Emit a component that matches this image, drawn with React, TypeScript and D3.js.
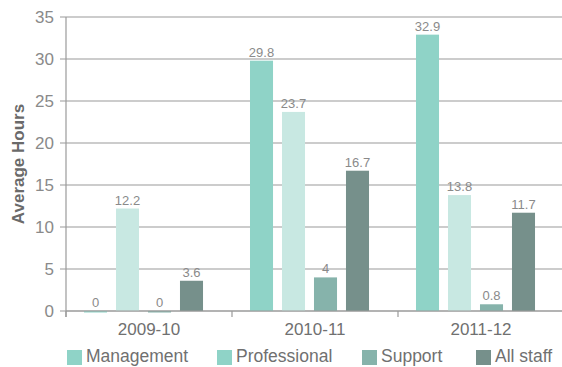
import React from "react";
import * as d3 from "d3";

const categories = ["2009-10", "2010-11", "2011-12"];
const seriesNames = ["Management", "Professional", "Support", "All staff"];
const management = [0, 29.8, 32.9];
const professional = [12.2, 23.7, 13.8];
const support = [0, 4, 0.8];
const allStaff = [3.6, 16.7, 11.7];
const yTicks = [0, 5, 10, 15, 20, 25, 30, 35];

const barColors = ["#8fd3c7", "#c8e8e2", "#86b3ab", "#76908b"];
const legendColors = ["#8fd3c7", "#8fd3c7", "#86b3ab", "#76908b"];

const W = 562;
const H = 367;
const left = 66;
const right = 562;
const top = 17;
const bottom = 311;
const font = "'Liberation Sans', Arial, Helvetica, sans-serif";

export default function App() {
  const seriesValues = [management, professional, support, allStaff];
  const x0 = d3.scaleBand().domain(categories).range([left, left + 166 * 3]).paddingInner(0).paddingOuter(0);
  const x1 = d3
    .scaleBand()
    .domain(seriesNames)
    .range([0, 166])
    .paddingInner(0.28)
    .paddingOuter(0.734)
    .align(0.383);
  const y = d3.scaleLinear().domain([0, 35]).range([bottom, top]);

  const legendX = [67, 217, 362, 476];

  return (
    <svg width={W} height={H} style={{ position: "absolute", left: 0, top: 0, background: "#fff" }} fontFamily={font}>
      {yTicks.map((t) => (
        <g key={t}>
          <line x1={left - 6} x2={right} y1={y(t)} y2={y(t)} stroke="#9a9a9a" strokeWidth={1.2} />
          <text x={54} y={y(t)} dy="0.35em" textAnchor="end" fontSize={17} fill="#8a8a8a">
            {t}
          </text>
        </g>
      ))}
      <line x1={left} x2={left} y1={top} y2={bottom + 6} stroke="#9a9a9a" strokeWidth={1.2} />
      {categories.map((c, ci) => (
        <g key={c}>
          {seriesNames.map((s, si) => {
            const v = seriesValues[si][ci];
            const bx = (x0(c) as number) + (x1(s) as number);
            const bw = x1.bandwidth();
            const yTop = y(v);
            return (
              <g key={s}>
                <rect x={bx} y={yTop} width={bw} height={Math.max(bottom - yTop, v === 0 ? 1.5 : 0)} fill={barColors[si]} />
                <text x={bx + bw / 2} y={yTop - 4} textAnchor="middle" fontSize={13} fill="#8a8a8a">
                  {v}
                </text>
              </g>
            );
          })}
        </g>
      ))}
      <line x1={left} x2={right} y1={bottom} y2={bottom} stroke="#9a9a9a" strokeWidth={1.2} />
      {categories.map((c) => (
        <g key={c}>
          <line x1={x0(c) as number} x2={x0(c) as number} y1={bottom} y2={bottom + 6} stroke="#9a9a9a" strokeWidth={1.2} />
          <text x={(x0(c) as number) + x0.bandwidth() / 2} y={335} textAnchor="middle" fontSize={17} fill="#707070">
            {c}
          </text>
        </g>
      ))}
      <text
        transform={`translate(24, ${(top + bottom) / 2}) rotate(-90)`}
        textAnchor="middle"
        fontSize={17}
        fontWeight="bold"
        fill="#6a6a6a"
      >
        Average Hours
      </text>
      {seriesNames.map((s, i) => (
        <g key={s}>
          <rect x={legendX[i]} y={350} width={15} height={15} fill={legendColors[i]} />
          <text x={legendX[i] + 19} y={362} fontSize={17.5} fill="#707070">
            {s}
          </text>
        </g>
      ))}
    </svg>
  );
}
